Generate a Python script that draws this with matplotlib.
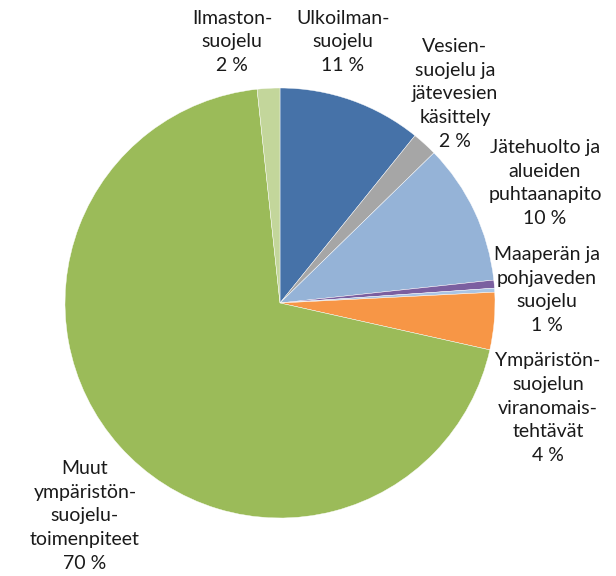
import matplotlib
matplotlib.use("Agg")
import matplotlib.pyplot as plt

labels = ["Ulkoilman-\nsuojelu\n11 %",
          "Vesien-\nsuojelu ja\njätevesien\nkäsittely\n2 %",
          "Jätehuolto ja\nalueiden\npuhtaanapito\n10 %",
          "Maaperän ja\npohjaveden\nsuojelu\n1 %",
          "",
          "Ympäristön-\nsuojelun\nviranomais-\ntehtävät\n4 %",
          "Muut\nympäristön-\nsuojelu-\ntoimenpiteet\n70 %",
          "Ilmaston-\nsuojelu\n2 %"]
values = [10.8, 1.9, 10.6, 0.6, 0.3, 4.3, 69.8, 1.7]
colors = ["#4672a8", "#a6a6a6", "#95b3d7", "#7b5fa0", "#a9c4e4",
          "#f79646", "#9bbb59", "#c3d69b"]
# label anchor positions (pixel coords, top-left origin) of text block centres
label_pos = [(343, 42), (455, 94), (545, 183), (547, 290), None,
             (548, 408), (85, 516), (232, 42)]

W, H = 616, 576
fig = plt.figure(figsize=(W / 100, H / 100), dpi=100)
ax = fig.add_axes([0, 0, 1, 1])
ax.set_xlim(0, W)
ax.set_ylim(0, H)
ax.set_aspect("equal")
ax.axis("off")

ax.pie(values, colors=colors, startangle=90, counterclock=False,
       center=(280, H - 303), radius=215,
       wedgeprops=dict(edgecolor="white", linewidth=0.3))
ax.set_xlim(0, W)
ax.set_ylim(0, H)

for lab, pos in zip(labels, label_pos):
    if pos is None:
        continue
    ax.text(pos[0], H - pos[1], lab, ha="center", va="center",
            fontsize=14, family="Lato", color="#1a1a1a", linespacing=1.48)

fig.savefig("out.png", dpi=100)
